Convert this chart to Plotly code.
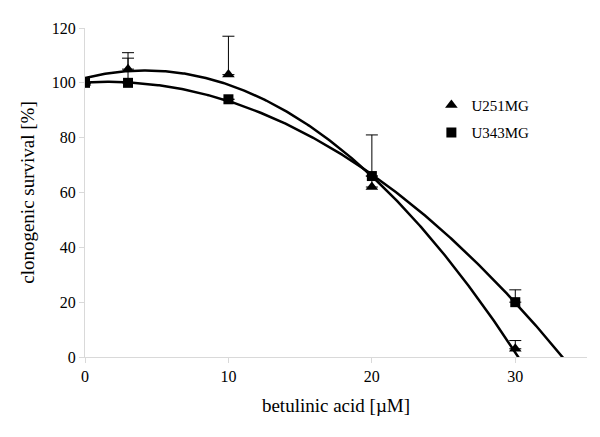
import numpy as np
import plotly.graph_objects as go

conc = [0, 3, 10, 20, 30]
u251_vals = [100, 105, 103, 62, 3]
u251_err = [0, 6, 14, 19, 3]
u343_vals = [100, 100, 94, 66, 20]
u343_err = [0, 9, 0, 0, 4.5]

x_ticks = [0, 10, 20, 30]
y_ticks = [0, 20, 40, 60, 80, 100, 120]

FONT = "Liberation Serif"

fig = go.Figure()

xs = np.linspace(0, 35, 400)
for vals in (u251_vals, u343_vals):
    coef = np.polyfit(conc, vals, 2)
    ys = np.polyval(coef, xs)
    fig.add_trace(go.Scatter(x=xs, y=ys, mode="lines", line=dict(color="black", width=2.5),
                             showlegend=False, hoverinfo="skip"))

fig.add_trace(go.Scatter(x=conc, y=u343_vals, mode="markers", name="U343MG", legendgroup="b",
                         legendrank=2,
                         marker=dict(symbol="square", size=10, color="black"),
                         error_y=dict(type="data", array=u343_err, symmetric=False, arrayminus=[0]*5,
                                      color="black", thickness=1, width=6)))
fig.add_trace(go.Scatter(x=conc, y=u251_vals, mode="markers", name="U251MG", legendgroup="a",
                         legendrank=1,
                         marker=dict(symbol="triangle-up", size=11, color="black"),
                         error_y=dict(type="data", array=u251_err, symmetric=False, arrayminus=[0]*5,
                                      color="black", thickness=1, width=6)))

fig.update_layout(
    width=600, height=437,
    margin=dict(l=77, r=21, t=13, b=88),
    plot_bgcolor="white", paper_bgcolor="white",
    font=dict(family=FONT, size=16, color="black"),
    legend=dict(x=0.69, y=0.815, xanchor="left", yanchor="top", traceorder="grouped",
                tracegroupgap=5,
                bgcolor="rgba(0,0,0,0)", font=dict(size=15), itemwidth=30),
    xaxis=dict(range=[0, 35], tickvals=x_ticks, showgrid=False, zeroline=False,
               showline=True, linecolor="#d9d9d9", linewidth=1,
               ticks="outside", ticklen=5, tickcolor="#d9d9d9",
               title=dict(text="betulinic acid [µM]", standoff=14)),
    yaxis=dict(range=[0, 120], tickvals=y_ticks, showgrid=False, zeroline=False,
               showline=True, linecolor="#d9d9d9", linewidth=1,
               ticks="outside", ticklen=5, tickcolor="#d9d9d9",
               title=dict(text="clonogenic survival [%]", standoff=12)),
)

fig.write_html("out.html")
